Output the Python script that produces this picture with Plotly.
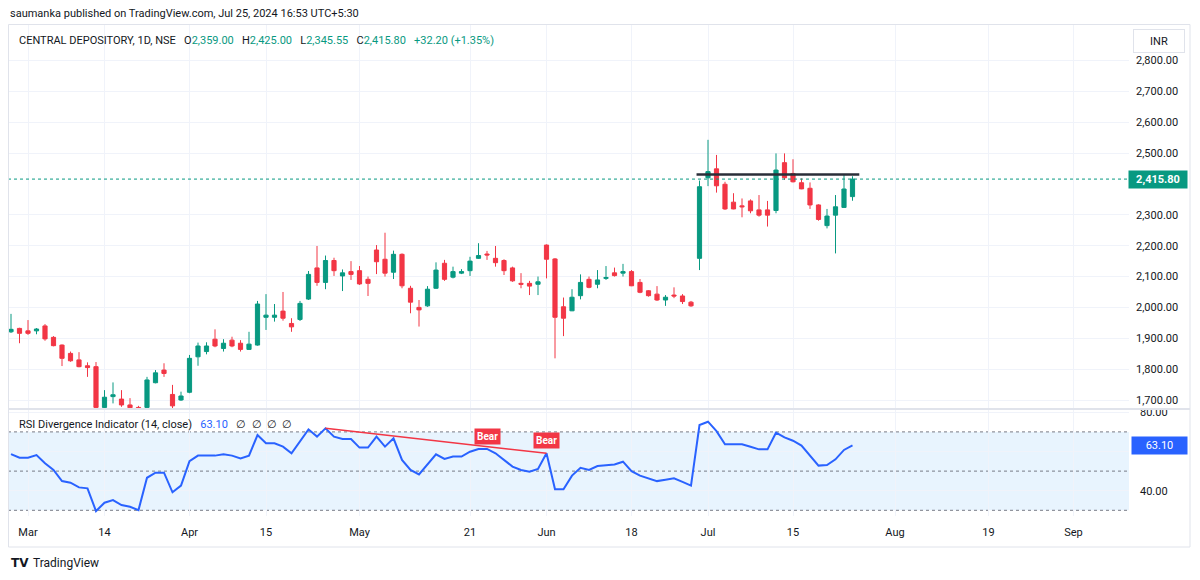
import pandas as pd
import plotly.graph_objects as go

# ---------------- data ----------------
holidays = ["2024-03-25", "2024-03-29", "2024-04-11", "2024-04-17",
            "2024-05-01", "2024-05-20", "2024-06-17", "2024-07-17"]
special_sessions = ["2024-05-18"]
future_holidays = ["2024-08-15"]

open_ = [1921, 1932, 1924, 1924, 1940, 1903, 1878, 1851, 1830, 1811,
         1808, 1676, 1711, 1703, 1684, 1676, 1676, 1756, 1797, 1718,
         1700, 1725, 1840, 1857, 1897, 1867, 1894, 1884, 1864, 1878,
         1968, 1968, 1988, 1948, 1961, 2027, 2128, 2081, 2152, 2102,
         2116, 2119, 2091, 2186, 2156, 2114, 2172, 2062, 2000, 2005,
         2062, 2143, 2098, 2111, 2119, 2159, 2173, 2159, 2152, 2128,
         2078, 2078, 2075, 2202, 2157, 2002, 1989, 2038, 2091, 2075,
         2094, 2112, 2111, 2116, 2081, 2054, 2043, 2024, 2040, 2037,
         2017, 2159, 2420, 2449, 2399, 2341, 2329, 2345, 2316, 2316,
         2314, 2469, 2434, 2404, 2386, 2332, 2265, 2299, 2324, 2359.00]
high = [1979, 1934, 1959, 1933, 1946, 1907, 1880, 1857, 1855, 1822,
        1823, 1732, 1757, 1732, 1706, 1681, 1775, 1797, 1819, 1749,
        1727, 1846, 1886, 1887, 1929, 1897, 1905, 1894, 1921, 2021,
        2043, 2011, 2050, 1965, 2021, 2118, 2199, 2168, 2161, 2123,
        2150, 2134, 2100, 2202, 2242, 2184, 2175, 2070, 2024, 2069,
        2146, 2154, 2132, 2124, 2164, 2208, 2183, 2199, 2156, 2132,
        2111, 2086, 2100, 2204, 2160, 2032, 2059, 2107, 2100, 2121,
        2134, 2129, 2141, 2121, 2092, 2056, 2069, 2040, 2065, 2043,
        2021, 2411, 2543, 2494, 2407, 2370, 2353, 2350, 2364, 2345,
        2499, 2499, 2480, 2418, 2405, 2334, 2319, 2364, 2429, 2425.00]
low = [1917, 1884, 1911, 1913, 1892, 1874, 1810, 1824, 1806, 1775,
       1670, 1670, 1689, 1678, 1671, 1669, 1673, 1754, 1775, 1673,
       1697, 1722, 1811, 1848, 1871, 1857, 1871, 1857, 1862, 1876,
       1927, 1954, 1957, 1921, 1956, 2024, 2070, 2059, 2102, 2053,
       2089, 2073, 2037, 2108, 2100, 2092, 2062, 1981, 1938, 2002,
       2060, 2086, 2094, 2108, 2102, 2157, 2154, 2132, 2105, 2083,
       2062, 2040, 2040, 2094, 1835, 1907, 1988, 2026, 2062, 2062,
       2089, 2100, 2100, 2069, 2046, 2035, 2021, 2005, 2030, 2011,
       2002, 2121, 2393, 2372, 2316, 2318, 2292, 2305, 2294, 2262,
       2305, 2413, 2405, 2383, 2319, 2281, 2256, 2175, 2323, 2345.55]
close = [1929, 1916, 1916, 1930, 1898, 1876, 1835, 1827, 1808, 1805,
         1676, 1709, 1717, 1684, 1675, 1671, 1765, 1788, 1786, 1681,
         1713, 1835, 1875, 1875, 1875, 1884, 1875, 1864, 1881, 2011,
         1975, 1975, 1965, 1937, 2013, 2107, 2081, 2152, 2119, 2112,
         2107, 2076, 2078, 2148, 2111, 2172, 2070, 2017, 1992, 2059,
         2121, 2091, 2116, 2116, 2150, 2168, 2170, 2145, 2119, 2086,
         2075, 2069, 2083, 2156, 1968, 1965, 2033, 2081, 2065, 2089,
         2097, 2103, 2116, 2070, 2049, 2038, 2024, 2033, 2037, 2019,
         2005, 2391, 2440, 2394, 2319, 2319, 2326, 2313, 2299, 2299,
         2445, 2420, 2407, 2384, 2332, 2285, 2296, 2326, 2383.6, 2415.80]

rsi = [58.7, 56.8, 56.8, 58.2, 54.0, 50.6, 44.9, 44.1, 41.7, 41.2,
       29.6, 33.9, 35.2, 32.7, 31.8, 30.1, 46.6, 49.2, 49.2, 39.2,
       42.6, 55.1, 57.9, 57.9, 57.9, 58.6, 57.9, 56.5, 57.9, 68.4,
       64.2, 64.2, 62.5, 59.1, 65.0, 71.3, 67.6, 71.8, 67.6, 66.4,
       66.4, 62.0, 62.0, 67.6, 62.5, 66.7, 55.7, 50.6, 48.3, 53.4,
       58.6, 56.2, 57.4, 57.4, 59.9, 61.3, 61.3, 59.1, 55.7, 52.3,
       50.6, 49.7, 51.1, 59.1, 40.7, 40.7, 47.7, 51.7, 50.6, 52.6,
       53.0, 53.4, 54.8, 50.0, 47.7, 46.3, 44.9, 45.6, 46.3, 44.5,
       42.6, 73.5, 75.2, 70.4, 63.7, 63.7, 63.7, 62.4, 61.1, 61.1,
       69.6, 67.2, 65.5, 63.0, 57.7, 52.8, 53.1, 56.0, 60.8, 63.1]

tick_labels = ["Mar", "14", "Apr", "15", "May", "21", "Jun", "18", "Jul", "15", "Aug", "19", "Sep"]
tick_dates = ["2024-03-01", "2024-03-14", "2024-04-01", "2024-04-15", "2024-05-02", "2024-05-21",
              "2024-06-03", "2024-06-18", "2024-07-01", "2024-07-15", "2024-08-01", "2024-08-19",
              "2024-09-02"]
price_ticks = [1700, 1800, 1900, 2000, 2100, 2200, 2300, 2500, 2600, 2700, 2800]
rsi_ticks = [40, 60, 80]
rsi_tick_text = ["40.00", "", "80.00"]   # 60.00 sits under the 63.10 value box
rsi_levels = [30, 50, 70]

last_price = 2415.80
last_rsi = 63.10
resistance_level = 2431
resistance_dates = ["2024-06-28", "2024-07-25"]
divergence_dates = ["2024-04-25", "2024-06-03"]
bear_dates = ["2024-05-23", "2024-06-03"]

# ---------------- trading-day axis ----------------
days = pd.bdate_range("2024-02-28", "2024-07-25")
days = days[~days.isin(pd.to_datetime(holidays))]
days = days.append(pd.to_datetime(special_sessions)).sort_values()
future = pd.bdate_range("2024-07-26", "2024-09-20")
future = future[~future.isin(pd.to_datetime(future_holidays))]
all_days = list(days) + list(future)
pos = {d.strftime("%Y-%m-%d"): i for i, d in enumerate(all_days)}
xi = list(range(len(days)))
tickvals = [pos[d] for d in tick_dates]

UP = "#089981"
DOWN = "#f23645"
GRID = "#f0f3fa"
TXT = "#131722"
FONT = "Roboto"

# pixel layout helpers
W, H = 1200, 580
L, R, T, B = 8, 71, 25, 64
PW, PH = W - L - R, H - T - B
BAR = 8.5
X0 = 11  # pixel of first candle
xr = [(L - X0) / BAR, (L + PW - X0) / BAR]


def px(xp):
    return (xp - L) / PW


def py(yp):
    return (H - B - yp) / PH


fig = go.Figure()
fig.add_trace(go.Candlestick(
    x=xi, open=open_, high=high, low=low, close=close,
    increasing=dict(line=dict(color=UP, width=1), fillcolor=UP),
    decreasing=dict(line=dict(color=DOWN, width=1), fillcolor=DOWN),
    whiskerwidth=0, showlegend=False, hoverinfo="skip", xaxis="x", yaxis="y"))

# resistance line
r0, r1 = pos[resistance_dates[0]] - 0.35, pos[resistance_dates[1]] + 0.8
fig.add_trace(go.Scatter(x=[r0, r1], y=[resistance_level, resistance_level], mode="lines",
                         line=dict(color="#2a2e39", width=2.5), showlegend=False,
                         hoverinfo="skip", xaxis="x", yaxis="y"))

# RSI
fig.add_trace(go.Scatter(x=xi, y=rsi, mode="lines", line=dict(color="#2962ff", width=2),
                         showlegend=False, hoverinfo="skip", xaxis="x2", yaxis="y2"))
d0, d1 = pos[divergence_dates[0]], pos[divergence_dates[1]]
fig.add_trace(go.Scatter(x=[d0, d1], y=[rsi[d0], rsi[d1]], mode="lines",
                         line=dict(color="#f23645", width=1.5), showlegend=False,
                         hoverinfo="skip", xaxis="x2", yaxis="y2"))

shapes = []
# RSI band
shapes.append(dict(type="rect", xref="x2 domain", yref="y2", x0=0, x1=1, y0=30, y1=70,
                   fillcolor="rgba(33,150,243,0.10)", line=dict(width=0), layer="below"))
for lv in rsi_levels:
    shapes.append(dict(type="line", xref="x2 domain", yref="y2", x0=0, x1=1, y0=lv, y1=lv,
                       line=dict(color="#787b86", width=1, dash="dot"), layer="below"))
# last price line
shapes.append(dict(type="line", xref="x domain", yref="y", x0=0, x1=1, y0=last_price, y1=last_price,
                   line=dict(color=UP, width=1, dash="dot")))
# pane separator
shapes.append(dict(type="line", xref="paper", yref="paper", x0=px(L), x1=px(1190),
                   y0=py(409), y1=py(409), line=dict(color="#e0e3eb", width=2)))
# outer border
shapes.append(dict(type="rect", xref="paper", yref="paper", x0=px(8.5), x1=px(1190),
                   y0=py(547), y1=py(24.5), line=dict(color="#e0e3eb", width=1)))

annotations = []
annotations.append(dict(xref="paper", yref="paper", x=px(8), y=py(14), xanchor="left", yanchor="middle",
                        text="saumanka published on TradingView.com, Jul 25, 2024 16:53 UTC+5:30",
                        showarrow=False, font=dict(family=FONT, size=11, color=TXT)))
nb = "\u00a0"
leg = ("CENTRAL DEPOSITORY, 1D, NSE" + nb * 3 +
       f"O<span style='color:{UP}'>2,359.00</span>" + nb * 3 +
       f"H<span style='color:{UP}'>2,425.00</span>" + nb * 3 +
       f"L<span style='color:{UP}'>2,345.55</span>" + nb * 3 +
       f"C<span style='color:{UP}'>2,415.80</span>" + nb * 3 +
       f"<span style='color:{UP}'>+32.20 (+1.35%)</span>")
annotations.append(dict(xref="paper", yref="paper", x=px(17), y=py(40), xanchor="left", yanchor="middle",
                        text=leg, showarrow=False, font=dict(family=FONT, size=11, color=TXT)))
rsi_leg = ("RSI Divergence Indicator (14, close)" + nb * 3 +
           f"<span style='color:#2962ff'>{last_rsi:.2f}</span>" + nb * 3 +
           (nb * 2).join(["\u2205"] * 4))
annotations.append(dict(xref="paper", yref="paper", x=px(17), y=py(424), xanchor="left", yanchor="middle",
                        text=rsi_leg, showarrow=False, font=dict(family=FONT, size=11, color=TXT)))
# price label
annotations.append(dict(xref="paper", yref="y", x=px(1128), y=last_price, xanchor="left", yanchor="middle",
                        text=f"<b>{last_price:,.2f}</b>", showarrow=False, bgcolor=UP, width=54,
                        borderpad=2, font=dict(family=FONT, size=11, color="white")))
annotations.append(dict(xref="paper", yref="y2", x=px(1131), y=last_rsi, xanchor="left", yanchor="middle",
                        text=f"{last_rsi:.2f}", showarrow=False, bgcolor="#2962ff", width=51,
                        borderpad=2, font=dict(family=FONT, size=11, color="white")))
# INR button
annotations.append(dict(xref="paper", yref="paper", x=px(1159), y=py(41), xanchor="center", yanchor="middle",
                        text="INR", showarrow=False, bgcolor="white", bordercolor="#e0e3eb", borderwidth=1,
                        width=48, height=20, font=dict(family=FONT, size=11, color=TXT)))
# Bear labels
for bd in bear_dates:
    bi = pos[bd]
    annotations.append(dict(xref="x2", yref="y2", x=bi, y=rsi[bi], xanchor="center", yanchor="bottom",
                            yshift=4, text="<b>Bear</b>", showarrow=False, bgcolor=DOWN, borderpad=2,
                            font=dict(family=FONT, size=10, color="white")))
# footer logo
annotations.append(dict(xref="paper", yref="paper", x=px(9), y=py(563), xanchor="left", yanchor="middle",
                        text="<b>TV</b>", showarrow=False, font=dict(family="DejaVu Sans", size=12, color=TXT)))
annotations.append(dict(xref="paper", yref="paper", x=px(31), y=py(563), xanchor="left", yanchor="middle",
                        text="TradingView", showarrow=False, font=dict(family=FONT, size=12, color=TXT)))

fig.update_layout(
    width=W, height=H, autosize=False,
    margin=dict(l=L, r=R, t=T, b=B),
    paper_bgcolor="white", plot_bgcolor="white",
    font=dict(family=FONT, size=11, color=TXT),
    showlegend=False,
    xaxis=dict(domain=[0, 1], anchor="y", range=xr, tickvals=tickvals, showticklabels=False,
               showgrid=True, gridcolor=GRID, zeroline=False, showline=False,
               rangeslider=dict(visible=False), ticks=""),
    xaxis2=dict(domain=[0, 1], anchor="y2", matches="x", range=xr, tickvals=tickvals, ticktext=tick_labels,
                showgrid=True, gridcolor=GRID, zeroline=False, showline=False, ticks="",
                ticklabelstandoff=8, tickfont=dict(family=FONT, size=11, color=TXT)),
    yaxis=dict(domain=[py(408), 1], anchor="x", side="right", range=[1674.1, 2915],
               tickvals=price_ticks, tickformat=",.2f", showgrid=True, gridcolor=GRID,
               zeroline=False, showline=False, ticks="", ticklabelstandoff=6,
               tickfont=dict(family=FONT, size=11, color=TXT)),
    yaxis2=dict(domain=[0, py(410)], anchor="x2", side="right", range=[27.1, 81.17],
                tickvals=rsi_ticks, ticktext=rsi_tick_text, showgrid=True, gridcolor=GRID,
                zeroline=False, showline=False, ticks="", ticklabelstandoff=10,
                tickfont=dict(family=FONT, size=11, color=TXT)),
    shapes=shapes, annotations=annotations,
)

fig.write_html("out.html")
